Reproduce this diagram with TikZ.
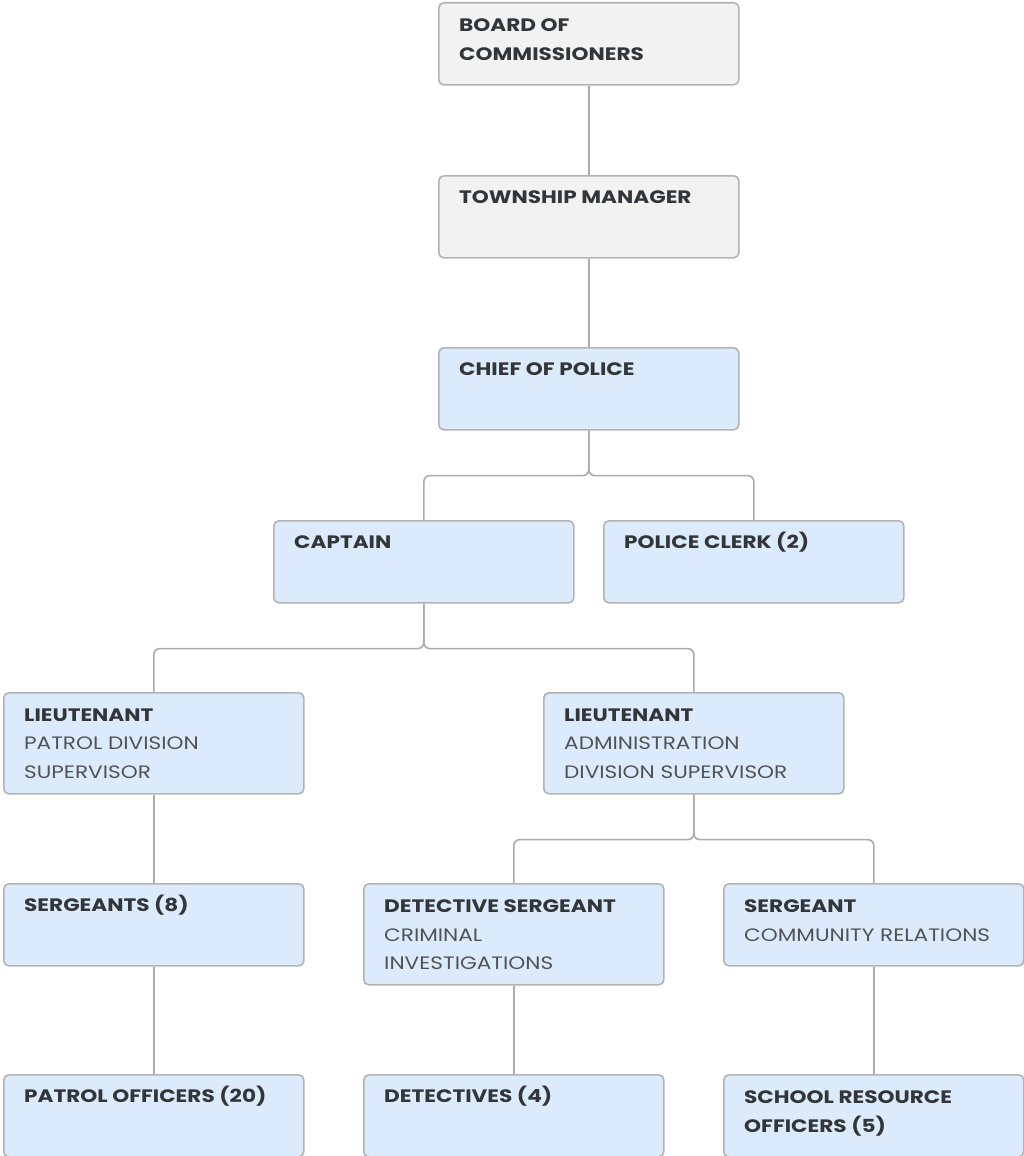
\documentclass[tikz,border=0pt]{standalone}
\usepackage{fontspec}
\setmainfont{Poppins}[FakeStretch=1.2]
\definecolor{boxgray}{HTML}{F2F2F2}
\definecolor{boxblue}{HTML}{DCEBFC}
\definecolor{edgegray}{HTML}{B3B3B3}
\definecolor{linegray}{HTML}{ABABAB}
\definecolor{inkdark}{HTML}{333638}
\definecolor{inksoft}{HTML}{505356}
\begin{document}
\begin{tikzpicture}[x=1pt,y=-1pt,
  orgbox/.style={draw=edgegray, line width=1.6pt, rounded corners=5pt,
    fill=boxblue, minimum width=300pt, minimum height=82pt, inner sep=0pt,
    anchor=north west},
  graybox/.style={orgbox, fill=boxgray},
  tallbox/.style={minimum height=101pt},
  boxtext/.style={anchor=north west, inner sep=0pt, align=left,
    font=\fontsize{18}{28.5}\selectfont, text=inkdark,
    execute at begin node=\strut},
  multiline/.style={yshift=-8.5pt},
  link/.style={draw=linegray, line width=1.6pt, rounded corners=6pt}]
\useasboundingbox (0,0) rectangle (1023,1156);

% boxes
\node[graybox] (board) at (438,2) {};
\node[graybox] (manager) at (438,175) {};
\node[orgbox] (chief) at (438,347) {};
\node[orgbox] (captain) at (273,520) {};
\node[orgbox] (clerk) at (603,520) {};
\node[orgbox, tallbox] (ltpatrol) at (3,692) {};
\node[orgbox, tallbox] (ltadmin) at (543,692) {};
\node[orgbox] (sergeants) at (3,883) {};
\node[orgbox, tallbox] (detsgt) at (363,883) {};
\node[orgbox] (sgtcr) at (723,883) {};
\node[orgbox] (patrol) at (3,1074) {};
\node[orgbox] (detectives) at (363,1074) {};
\node[orgbox] (sro) at (723,1074) {};

% labels: first baseline sits 28pt below the box top
\newcommand{\boxlabel}[3][]{%
  \node[boxtext,#1] (#2-text) at ([xshift=21pt,yshift=-8pt]#2.north west) {#3};}
\newcommand{\hd}[1]{\textbf{#1}}
\newcommand{\sub}[1]{{\color{inksoft}#1}}

\boxlabel[multiline]{board}{\hd{BOARD OF}\\\hd{COMMISSIONERS}}
\boxlabel{manager}{\hd{TOWNSHIP MANAGER}}
\boxlabel{chief}{\hd{CHIEF OF POLICE}}
\boxlabel{captain}{\hd{CAPTAIN}}
\boxlabel{clerk}{\hd{POLICE CLERK (2)}}
\boxlabel[multiline]{ltpatrol}{\hd{LIEUTENANT}\\\sub{PATROL DIVISION}\\\sub{SUPERVISOR}}
\boxlabel[multiline]{ltadmin}{\hd{LIEUTENANT}\\\sub{ADMINISTRATION}\\\sub{DIVISION SUPERVISOR}}
\boxlabel{sergeants}{\hd{SERGEANTS (8)}}
\boxlabel[multiline]{detsgt}{\hd{DETECTIVE SERGEANT}\\\sub{CRIMINAL}\\\sub{INVESTIGATIONS}}
\boxlabel[multiline]{sgtcr}{\hd{SERGEANT}\\\sub{COMMUNITY RELATIONS}}
\boxlabel{patrol}{\hd{PATROL OFFICERS (20)}}
\boxlabel{detectives}{\hd{DETECTIVES (4)}}
\boxlabel[multiline]{sro}{\hd{SCHOOL RESOURCE}\\\hd{OFFICERS (5)}}

% connectors
\path[link] (board.south) -- (manager.north);
\path[link] (manager.south) -- (chief.north);
\path[link] (chief.south) -- ++(0,45) -| (captain.north);
\path[link] (chief.south) -- ++(0,45) -| (clerk.north);
\path[link] (captain.south) -- ++(0,45) -| (ltpatrol.north);
\path[link] (captain.south) -- ++(0,45) -| (ltadmin.north);
\path[link] (ltpatrol.south) -- (sergeants.north);
\path[link] (ltadmin.south) -- ++(0,45) -| (detsgt.north);
\path[link] (ltadmin.south) -- ++(0,45) -| (sgtcr.north);
\path[link] (sergeants.south) -- (patrol.north);
\path[link] (detsgt.south) -- (detectives.north);
\path[link] (sgtcr.south) -- (sro.north);
\end{tikzpicture}
\end{document}
